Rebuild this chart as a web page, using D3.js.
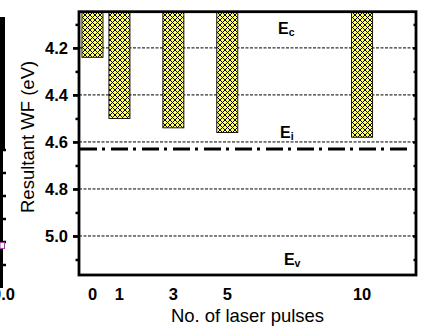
<!DOCTYPE html>
<html>
<head>
<meta charset="utf-8">
<script src="https://cdn.jsdelivr.net/npm/d3@7"></script>
<style>
  html, body { margin: 0; padding: 0; background: #fff; }
  svg { display: block; font-family: "Liberation Sans", Arial, sans-serif; }
</style>
</head>
<body>
<svg id="chart" width="422" height="326"></svg>
<script>
// Resultant work function after laser treatment
const pulses = [0, 1, 3, 5, 10];
const workFunction = [4.24, 4.50, 4.54, 4.56, 4.58];
const xTickLabels = ["0", "1", "3", "5", "10"];
const yMajorTicks = [4.2, 4.4, 4.6, 4.8, 5.0];
const yMinorTicks = [4.1, 4.3, 4.5, 4.7, 4.9, 5.1];
const yTickLabels = ["4.2", "4.4", "4.6", "4.8", "5.0"];
const fermiLevel = 4.63;
const bandSubscripts = ["c", "i", "v"];
const bandLabelLevels = [4.14, 4.585, 5.122];
const bandLabelPulse = [6.88, 6.96, 7.1];

// neighbouring panel (cut at the left edge)
const sidePanelTicks = [0.2, 0.4, 0.6, 0.8, 1.0, 1.2];

const svg = d3.select("#chart");
const plotL = 79, plotR = 416, plotT = 11.7, plotB = 275;

const x = d3.scaleLinear().domain([-0.5, 12]).range([plotL, plotR]);
const y = d3.scaleLinear().domain([4.046, 5.166]).range([plotT, plotB]);
const barW = x(0.78) - x(0);

// crosshatch fill
const defs = svg.append("defs");
const pat = defs.append("pattern")
  .attr("id", "hatch").attr("patternUnits", "userSpaceOnUse")
  .attr("width", 5).attr("height", 5);
pat.append("rect").attr("width", 5).attr("height", 5).attr("fill", "#ffff66");
pat.append("path")
  .attr("d", "M-1,1 l2,-2 M0,5 l5,-5 M4,6 l2,-2 M-1,4 l2,2 M0,0 l5,5 M4,-1 l2,2")
  .attr("stroke", "#000").attr("stroke-width", 1);

// gridlines
svg.append("g").selectAll("line").data(yMajorTicks).join("line")
  .attr("x1", plotL).attr("x2", plotR)
  .attr("y1", d => y(d)).attr("y2", d => y(d))
  .attr("stroke", "#000").attr("stroke-width", 1)
  .attr("stroke-dasharray", "3,1.5");

// bars hang from the top of the frame down to the work function value
svg.append("g").selectAll("rect").data(pulses).join("rect")
  .attr("x", d => x(d) - barW / 2)
  .attr("width", barW)
  .attr("y", plotT)
  .attr("height", (d, i) => y(workFunction[i]) - plotT)
  .attr("fill", "url(#hatch)")
  .attr("stroke", "#000").attr("stroke-width", 0.9);

// Fermi level
svg.append("line")
  .attr("x1", plotL + 1).attr("x2", plotR - 4)
  .attr("y1", y(fermiLevel)).attr("y2", y(fermiLevel))
  .attr("stroke", "#000").attr("stroke-width", 2.8)
  .attr("stroke-dasharray", "17,5,3,6");

// frame
const frame = svg.append("g").attr("stroke", "#000").attr("stroke-width", 2.8).attr("fill", "none");
frame.append("rect").attr("x", plotL).attr("y", plotT).attr("width", plotR - plotL).attr("height", plotB - plotT);

// left axis ticks
const yAxisL = d3.axisLeft(y).tickValues(yMajorTicks).tickSize(6).tickFormat((d, i) => yTickLabels[i]);
const gL = svg.append("g").attr("transform", `translate(${plotL},0)`).call(yAxisL);
gL.select(".domain").remove();
gL.selectAll(".tick line").attr("stroke-width", 2.8);
gL.selectAll(".tick text")
  .attr("font-family", "Liberation Sans, Arial, sans-serif")
  .attr("font-weight", "bold").attr("font-size", 16.5).attr("fill", "#000")
  .attr("x", -11).attr("dy", "0.36em");
const gLm = svg.append("g").attr("transform", `translate(${plotL},0)`)
  .call(d3.axisLeft(y).tickValues(yMinorTicks).tickSize(3.5).tickFormat(""));
gLm.select(".domain").remove();
gLm.selectAll(".tick line").attr("stroke-width", 2.5);

// right axis ticks (inward)
const gR = svg.append("g").attr("transform", `translate(${plotR},0)`)
  .call(d3.axisLeft(y).tickValues(yMajorTicks).tickSize(3).tickFormat(""));
gR.select(".domain").remove();
gR.selectAll(".tick line").attr("stroke-width", 2.5);
const gRm = svg.append("g").attr("transform", `translate(${plotR},0)`)
  .call(d3.axisLeft(y).tickValues(yMinorTicks).tickSize(2.5).tickFormat(""));
gRm.select(".domain").remove();
gRm.selectAll(".tick line").attr("stroke-width", 2.5);

// x tick labels
svg.append("g").selectAll("text").data(pulses).join("text")
  .attr("x", d => x(d)).attr("y", 300)
  .attr("text-anchor", "middle")
  .attr("font-weight", "bold").attr("font-size", 16.5)
  .text((d, i) => xTickLabels[i]);

// axis titles
svg.append("text")
  .attr("x", x(5.75)).attr("y", 321.5)
  .attr("text-anchor", "middle").attr("font-size", 18.5)
  .text("No. of laser pulses");
svg.append("text")
  .attr("transform", `translate(34,${y(4.6) - 5}) rotate(-90)`)
  .attr("text-anchor", "middle").attr("font-size", 18.5)
  .text("Resultant WF (eV)");

// band edge labels
const bl = svg.append("g").selectAll("text").data(bandSubscripts).join("text")
  .attr("x", (d, i) => x(bandLabelPulse[i]))
  .attr("y", (d, i) => y(bandLabelLevels[i]))
  .attr("font-weight", "bold").attr("font-size", 16);
bl.append("tspan").text("E");
bl.append("tspan").attr("font-size", 10.5).attr("dy", 2).text(d => d);

// edge of the neighbouring panel
const ys = d3.scaleLinear().domain([0, 1.2]).range([288, 150]);
svg.append("rect").attr("x", 0).attr("y", 17).attr("width", 5).attr("height", ys(1.2) - 17).attr("fill", "#000");
svg.append("line").attr("x1", 1.5).attr("x2", 1.5).attr("y1", 150).attr("y2", ys(0)).attr("stroke", "#000").attr("stroke-width", 3);
svg.append("g").selectAll("line").data(sidePanelTicks).join("line")
  .attr("x1", 1.5).attr("x2", 6)
  .attr("y1", d => ys(d)).attr("y2", d => ys(d))
  .attr("stroke", "#000").attr("stroke-width", 2.5);
svg.append("rect").attr("x", 0).attr("y", ys(0.37) - 3).attr("width", 4.5).attr("height", 6)
  .attr("fill", "#fff").attr("stroke", "#a040a0").attr("stroke-width", 1);
svg.append("text").attr("x", 15).attr("y", 300).attr("text-anchor", "end")
  .attr("font-weight", "bold").attr("font-size", 16.5).text("0.0");
</script>
</body>
</html>
